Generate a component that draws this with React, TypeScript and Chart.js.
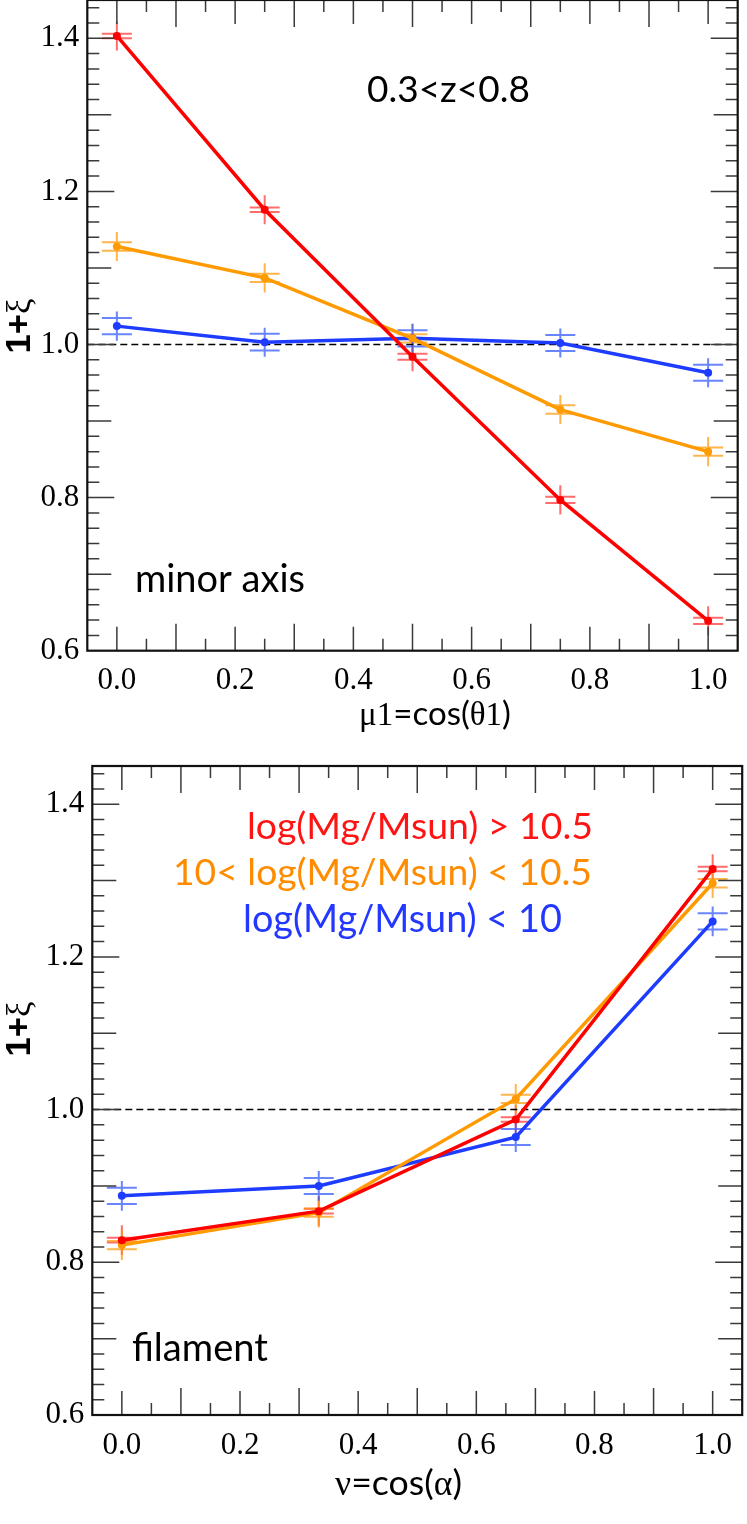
import { useEffect, useRef } from "react";
import { Chart, registerables } from "chart.js";

Chart.register(...registerables);

// top panel: minor axis, 0.3<z<0.8
const muValues = [0, 0.25, 0.5, 0.75, 1.0];
const minorHigh = [1.403, 1.176, 0.984, 0.797, 0.639];
const minorMid = [1.128, 1.087, 1.008, 0.915, 0.86];
const minorLow = [1.024, 1.003, 1.008, 1.002, 0.963];
const minorHighCap = [0.003, 0.003, 0.004, 0.004, 0.004];
const minorMidCap = [0.0055, 0.0055, 0.0055, 0.0055, 0.0055];
const minorLowCap = [0.0105, 0.011, 0.0105, 0.0105, 0.0105];
const minorBar = [0.019, 0.019, 0.019, 0.019, 0.019];

// bottom panel: filament
const nuValues = [0, 0.3333, 0.6667, 1.0];
const filHigh = [0.829, 0.867, 0.987, 1.315];
const filMid = [0.8225, 0.865, 1.014, 1.2965];
const filLow = [0.887, 0.9, 0.964, 1.2465];
const filHighCap = [0.003, 0.003, 0.003, 0.003];
const filMidCap = [0.0055, 0.0055, 0.0055, 0.0055];
const filLowCap = [0.0105, 0.0105, 0.0105, 0.0105];
const filBar = [0.0195, 0.0195, 0.0195, 0.0195];

const xTickValues = [0, 0.2, 0.4, 0.6, 0.8, 1.0];
const xTickLabels = ["0.0", "0.2", "0.4", "0.6", "0.8", "1.0"];
const yTickValues = [0.6, 0.8, 1.0, 1.2, 1.4];
const yTickLabels = ["0.6", "0.8", "1.0", "1.2", "1.4"];
const unityLine = [
  { x: -0.05, y: 1 },
  { x: 1.05, y: 1 },
];

const legendLabels = ["log(Mg/Msun) > 10.5", "10< log(Mg/Msun) < 10.5", "log(Mg/Msun) < 10"];

const RED = "#ff0000";
const ORANGE = "#ff9a00";
const BLUE = "#1e3cff";
const SANS = "Lato";
const SERIF = "'Liberation Serif'";

type Seg = { t: string; fam: string; w?: string };
interface TextSpec {
  segs: Seg[];
  left: number;
  right: number;
  base: number;
  color: string;
}
interface SeriesSpec {
  values: number[];
  cap: number[];
  bar: number[];
  line: string;
  err: string;
}
interface PanelSpec {
  top: number;
  height: number;
  area: { l: number; t: number; r: number; b: number };
  xs: number[];
  series: SeriesSpec[];
  texts: TextSpec[];
  titleY: number;
}

const W = 747;

function drawSegs(ctx: CanvasRenderingContext2D, segs: Seg[], left: number, right: number, base: number, color: string) {
  ctx.save();
  let total = 0;
  segs.forEach((s) => {
    ctx.font = `${s.w ?? "normal"} 100px ${s.fam}`;
    total += ctx.measureText(s.t).width;
  });
  const size = (100 * (right - left)) / total;
  let cx = left;
  ctx.fillStyle = color;
  ctx.textAlign = "left";
  ctx.textBaseline = "alphabetic";
  segs.forEach((s) => {
    ctx.font = `${s.w ?? "normal"} ${size}px ${s.fam}`;
    ctx.fillText(s.t, cx, base);
    cx += ctx.measureText(s.t).width;
  });
  ctx.restore();
}

const topPanel: PanelSpec = {
  top: -4,
  height: 766,
  area: { l: 87.3, t: -1.5, r: 737.7, b: 650.7 },
  xs: muValues,
  series: [
    { values: minorHigh, cap: minorHighCap, bar: minorBar, line: RED, err: "rgba(255,30,30,0.65)" },
    { values: minorMid, cap: minorMidCap, bar: minorBar, line: ORANGE, err: "rgba(255,150,0,0.7)" },
    { values: minorLow, cap: minorLowCap, bar: minorBar, line: BLUE, err: "rgba(40,80,255,0.7)" },
  ],
  texts: [
    { segs: [{ t: "0.3<z<0.8", fam: SANS }], left: 367, right: 530, base: 102, color: "#000" },
    { segs: [{ t: "minor axis", fam: SANS }], left: 135, right: 305, base: 592, color: "#000" },
    {
      segs: [
        { t: "μ", fam: SERIF },
        { t: "1", fam: SERIF },
        { t: "=cos(", fam: SANS },
        { t: "θ", fam: SERIF },
        { t: "1", fam: SERIF },
        { t: ")", fam: SANS },
      ],
      left: 359,
      right: 511,
      base: 725,
      color: "#000",
    },
  ],
  titleY: 326,
};

const bottomPanel: PanelSpec = {
  top: 762,
  height: 762,
  area: { l: 92.3, t: 764.8, r: 742.2, b: 1415 },
  xs: nuValues,
  series: [
    { values: filHigh, cap: filHighCap, bar: filBar, line: RED, err: "rgba(255,30,30,0.65)" },
    { values: filMid, cap: filMidCap, bar: filBar, line: ORANGE, err: "rgba(255,150,0,0.7)" },
    { values: filLow, cap: filLowCap, bar: filBar, line: BLUE, err: "rgba(40,80,255,0.7)" },
  ],
  texts: [
    { segs: [{ t: legendLabels[0], fam: SANS }], left: 247, right: 593, base: 839, color: "#ff1414" },
    { segs: [{ t: legendLabels[1], fam: SANS }], left: 173, right: 592, base: 885, color: "#ff8c00" },
    { segs: [{ t: legendLabels[2], fam: SANS }], left: 243, right: 562, base: 932, color: "#2237ff" },
    { segs: [{ t: "filament", fam: SANS }], left: 132, right: 268, base: 1361, color: "#000" },
    {
      segs: [
        { t: "ν", fam: SERIF },
        { t: "=cos(", fam: SANS },
        { t: "α", fam: SERIF },
        { t: ")", fam: SANS },
      ],
      left: 335,
      right: 462,
      base: 1495,
      color: "#000",
    },
  ],
  titleY: 1029,
};

function decorPlugin(p: PanelSpec) {
  return {
    id: "decor",
    beforeDatasetsDraw(chart: any) {
      const { ctx, scales } = chart;
      const x = scales.x;
      const y = scales.y;
      ctx.save();
      ctx.lineWidth = 2;
      p.series.forEach((s) => {
        ctx.strokeStyle = s.err;
        s.values.forEach((v, i) => {
          const px = x.getPixelForValue(p.xs[i]);
          ctx.beginPath();
          ctx.moveTo(px, y.getPixelForValue(v - s.bar[i]));
          ctx.lineTo(px, y.getPixelForValue(v + s.bar[i]));
          [-1, 1].forEach((sg) => {
            const cy = y.getPixelForValue(v + sg * s.cap[i]);
            ctx.moveTo(px - 15, cy);
            ctx.lineTo(px + 15, cy);
          });
          ctx.stroke();
        });
      });
      ctx.restore();
    },
    afterDraw(chart: any) {
      const { ctx, chartArea: a, scales } = chart;
      const x = scales.x;
      const y = scales.y;
      ctx.save();
      // inward tick marks on all four sides
      ctx.strokeStyle = "#3a3a3a";
      ctx.lineWidth = 1.5;
      ctx.beginPath();
      for (let k = 1; k < 22; k++) {
        const px = x.getPixelForValue(-0.05 + k * 0.05);
        const len = (k + 1) % 4 === 0 ? 27 : (k + 1) % 2 === 0 ? 24 : 12;
        ctx.moveTo(px, a.bottom);
        ctx.lineTo(px, a.bottom - len);
        ctx.moveTo(px, a.top);
        ctx.lineTo(px, a.top + len);
      }
      for (let k = 1; k <= 42; k++) {
        const py = y.getPixelForValue(0.6 + k * 0.02);
        const len = k % 10 === 0 ? 27 : k % 5 === 0 ? 24 : 12;
        ctx.moveTo(a.left, py);
        ctx.lineTo(a.left + len, py);
        ctx.moveTo(a.right, py);
        ctx.lineTo(a.right - len, py);
      }
      ctx.stroke();
      // frame
      ctx.strokeStyle = "#111";
      ctx.lineWidth = 2.2;
      ctx.strokeRect(a.left, a.top, a.right - a.left, a.bottom - a.top);
      // texts
      p.texts.forEach((t) => drawSegs(ctx, t.segs, t.left, t.right, t.base - p.top, t.color));
      // y title
      ctx.translate(30, p.titleY - p.top);
      ctx.rotate(-Math.PI / 2);
      drawSegs(
        ctx,
        [
          { t: "1+", fam: "'Liberation Sans'", w: "bold" },
          { t: "ξ", fam: SERIF },
        ],
        -27.5,
        27.5,
        0,
        "#000"
      );
      ctx.restore();
    },
  };
}

function Panel({ spec }: { spec: PanelSpec }) {
  const canvasRef = useRef<HTMLCanvasElement>(null);
  const chartRef = useRef<Chart | null>(null);

  useEffect(() => {
    if (!canvasRef.current) return;
    if (chartRef.current) chartRef.current.destroy();
    const ctx = canvasRef.current.getContext("2d");
    if (!ctx) return;

    const H = spec.height;
    const area = {
      l: spec.area.l,
      t: spec.area.t - spec.top,
      r: spec.area.r,
      b: spec.area.b - spec.top,
    };

    const datasets: any[] = spec.series.map((s) => ({
      data: s.values.map((v, i) => ({ x: spec.xs[i], y: v })),
      borderColor: s.line,
      backgroundColor: s.line,
      borderWidth: 3.5,
      pointRadius: 4,
      pointHoverRadius: 4,
      pointBorderWidth: 0,
      pointBackgroundColor: s.line,
      tension: 0,
    }));
    datasets.push({
      data: unityLine,
      borderColor: "#000",
      borderWidth: 1.5,
      borderDash: [7, 4],
      pointRadius: 0,
      pointHoverRadius: 0,
    });

    const tickFont = { family: "'Liberation Serif'", size: 31 };

    chartRef.current = new Chart(ctx, {
      type: "line",
      data: { datasets },
      options: {
        responsive: false,
        animation: false,
        layout: { padding: { left: 0, top: area.t, right: W - area.r, bottom: 0 } },
        plugins: { legend: { display: false }, tooltip: { enabled: false } },
        events: [],
        scales: {
          x: {
            type: "linear",
            min: -0.05,
            max: 1.05,
            grid: { display: false, drawTicks: false },
            border: { display: false },
            ticks: {
              padding: 12,
              font: tickFont,
              color: "#000",
              maxRotation: 0,
              autoSkip: false,
              callback: (_v: any, i: number) => xTickLabels[i],
            },
            afterBuildTicks: (s: any) => {
              s.ticks = xTickValues.map((v) => ({ value: v }));
            },
            afterFit: (s: any) => {
              s.height = H - area.b;
              s.paddingLeft = 0;
              s.paddingRight = 0;
            },
          },
          y: {
            type: "linear",
            min: 0.6,
            max: 1.45,
            grid: { display: false, drawTicks: false },
            border: { display: false },
            ticks: {
              padding: 8,
              font: tickFont,
              color: "#000",
              autoSkip: false,
              callback: (_v: any, i: number) => yTickLabels[i],
            },
            afterBuildTicks: (s: any) => {
              s.ticks = yTickValues.map((v) => ({ value: v }));
            },
            afterFit: (s: any) => {
              s.width = area.l;
              s.paddingTop = 0;
              s.paddingBottom = 0;
            },
          },
        },
      } as any,
      plugins: [decorPlugin(spec)],
    });

    return () => {
      if (chartRef.current) {
        chartRef.current.destroy();
        chartRef.current = null;
      }
    };
  }, [spec]);

  return (
    <canvas
      ref={canvasRef}
      width={W}
      height={spec.height}
      style={{ position: "absolute", left: 0, top: spec.top, width: W, height: spec.height }}
    />
  );
}

export default function App() {
  return (
    <div
      style={{
        position: "absolute",
        left: 0,
        top: 0,
        width: W,
        height: 1524,
        overflow: "hidden",
        background: "#fff",
      }}
    >
      <Panel spec={topPanel} />
      <Panel spec={bottomPanel} />
    </div>
  );
}
